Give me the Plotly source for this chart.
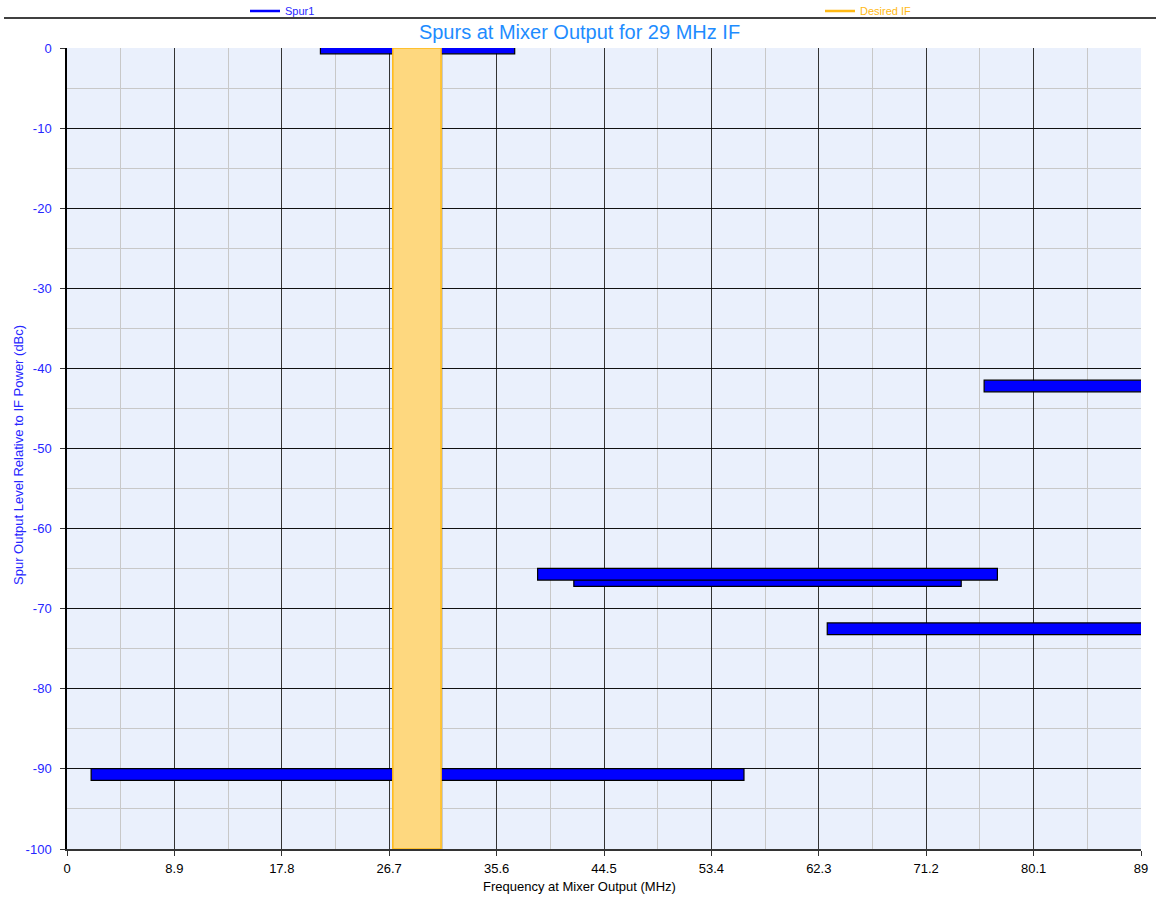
import plotly.graph_objects as go

# Spur products at the mixer output: frequency span (MHz) and level (dBc)
spur_start_mhz = [21.0, 76.0, 42.0, 39.0, 63.0, 2.0]
spur_stop_mhz = [37.1, 100.0, 74.1, 77.1, 100.0, 56.1]
spur_level_dbc = [0.0, -42.2, -66.5, -65.7, -72.5, -90.7]

# Desired IF passband (MHz)
if_center_mhz = 29.0
if_low_mhz = 27.0
if_high_mhz = 31.0

# Axis ticks
x_tickvals = [0, 8.9, 17.8, 26.7, 35.6, 44.5, 53.4, 62.3, 71.2, 80.1, 89]
x_ticktext = ["0", "8.9", "17.8", "26.7", "35.6", "44.5", "53.4", "62.3", "71.2", "80.1", "89"]
y_tickvals = [0, -10, -20, -30, -40, -50, -60, -70, -80, -90, -100]
y_ticktext = ["0", "-10", "-20", "-30", "-40", "-50", "-60", "-70", "-80", "-90", "-100"]

X_MAX = 89
Y_MIN, Y_MAX = -100, 0

W, H = 1159, 898
M_L, M_R, M_T, M_B = 67, 18, 48, 49
PLOT_W = W - M_L - M_R
PLOT_H = H - M_T - M_B

FONT = "Liberation Sans, Arial, sans-serif"
BLUE = "#0000FF"
TEXT_BLUE = "#2626FF"
TITLE_BLUE = "#1E8CFF"
ORANGE = "#FFB914"
BAND_FILL = "#FED87F"

fig = go.Figure()

# Spur bars (horizontal, from start to stop frequency)
fig.add_trace(go.Bar(
    y=spur_level_dbc,
    x=[b - a for a, b in zip(spur_start_mhz, spur_stop_mhz)],
    base=spur_start_mhz,
    orientation="h",
    width=1.45,
    marker=dict(color=BLUE, line=dict(color="#000000", width=1.2)),
    showlegend=False,
    hoverinfo="skip",
))

# Desired IF band drawn over the spurs
fig.add_trace(go.Scatter(
    x=[if_low_mhz, if_high_mhz, if_high_mhz, if_low_mhz, if_low_mhz],
    y=[Y_MIN, Y_MIN, Y_MAX, Y_MAX, Y_MIN],
    mode="lines",
    fill="toself",
    fillcolor=BAND_FILL,
    line=dict(color=ORANGE, width=1.5),
    showlegend=False,
    hoverinfo="skip",
))

# Legend entries
fig.add_trace(go.Scatter(
    x=[None], y=[None], mode="lines", name="Spur1",
    line=dict(color=BLUE, width=2.5), legend="legend",
))
fig.add_trace(go.Scatter(
    x=[None], y=[None], mode="lines", name="Desired IF",
    line=dict(color=ORANGE, width=2.5), legend="legend2",
))

# Separator line under the legend row
sep_y = 1 + (M_T - 18) / PLOT_H
fig.add_shape(
    type="line", xref="paper", yref="paper",
    x0=(4 - M_L) / PLOT_W, x1=(1156 - M_L) / PLOT_W,
    y0=sep_y, y1=sep_y,
    line=dict(color="#000000", width=1.3),
)

# X axis title, centred on the page
fig.add_annotation(
    text="Frequency at Mixer Output (MHz)",
    xref="paper", yref="paper",
    x=(W / 2 - M_L) / PLOT_W, y=-(887 - (H - M_B)) / PLOT_H,
    xanchor="center", yanchor="middle", showarrow=False,
    font=dict(family=FONT, size=13, color="#000000"),
)

# Y axis title
fig.add_annotation(
    text="Spur Output Level Relative to IF Power (dBc)",
    xref="paper", yref="paper",
    x=-(M_L - 18) / PLOT_W, y=(H - M_B - 455) / PLOT_H,
    xanchor="center", yanchor="middle", showarrow=False, textangle=-90,
    font=dict(family=FONT, size=13, color=TEXT_BLUE),
)

fig.update_layout(
    width=W, height=H,
    margin=dict(l=M_L, r=M_R, t=M_T, b=M_B, autoexpand=False),
    paper_bgcolor="#FFFFFF",
    plot_bgcolor="#EAF0FC",
    barmode="overlay",
    font=dict(family=FONT, size=12, color="#000000"),
    title=dict(
        text=f"Spurs at Mixer Output for {if_center_mhz:g} MHz IF",
        font=dict(family=FONT, size=20, color=TITLE_BLUE),
        x=0.5, xanchor="center", xref="container",
        y=1 - 32 / H, yanchor="middle", yref="container",
    ),
    legend=dict(
        xref="container", yref="container",
        x=245 / W, xanchor="left", y=1 - 11 / H, yanchor="middle",
        orientation="h", bgcolor="rgba(0,0,0,0)",
        font=dict(family=FONT, size=11, color=TEXT_BLUE),
        itemwidth=30,
    ),
    legend2=dict(
        xref="container", yref="container",
        x=820 / W, xanchor="left", y=1 - 11 / H, yanchor="middle",
        orientation="h", bgcolor="rgba(0,0,0,0)",
        font=dict(family=FONT, size=11, color=ORANGE),
        itemwidth=30,
    ),
    xaxis=dict(
        range=[0, X_MAX], automargin=False,
        tickvals=x_tickvals, ticktext=x_ticktext,
        ticks="outside", ticklen=5, tickcolor="#333333", tickwidth=1,
        ticklabelstandoff=1,
        tickfont=dict(family=FONT, size=13, color="#000000"),
        showgrid=True, gridcolor="#333333", gridwidth=1,
        minor=dict(dtick=X_MAX / 20, tick0=0, showgrid=True,
                   gridcolor="#C8C8C8", gridwidth=1, ticks=""),
        showline=True, linecolor="#333333", linewidth=2,
        zeroline=False, mirror=False,
    ),
    yaxis=dict(
        range=[Y_MIN, Y_MAX], automargin=False,
        tickvals=y_tickvals, ticktext=y_ticktext,
        ticks="outside", ticklen=5, tickcolor="#333333", tickwidth=1,
        ticklabelstandoff=6,
        tickfont=dict(family=FONT, size=13, color=TEXT_BLUE),
        showgrid=True, gridcolor="#111111", gridwidth=1,
        minor=dict(dtick=5, showgrid=True, gridcolor="#C8C8C8",
                   gridwidth=1, ticks=""),
        showline=True, linecolor="#000000", linewidth=1.5,
        zeroline=False,
    ),
)

fig.write_html("out.html")
